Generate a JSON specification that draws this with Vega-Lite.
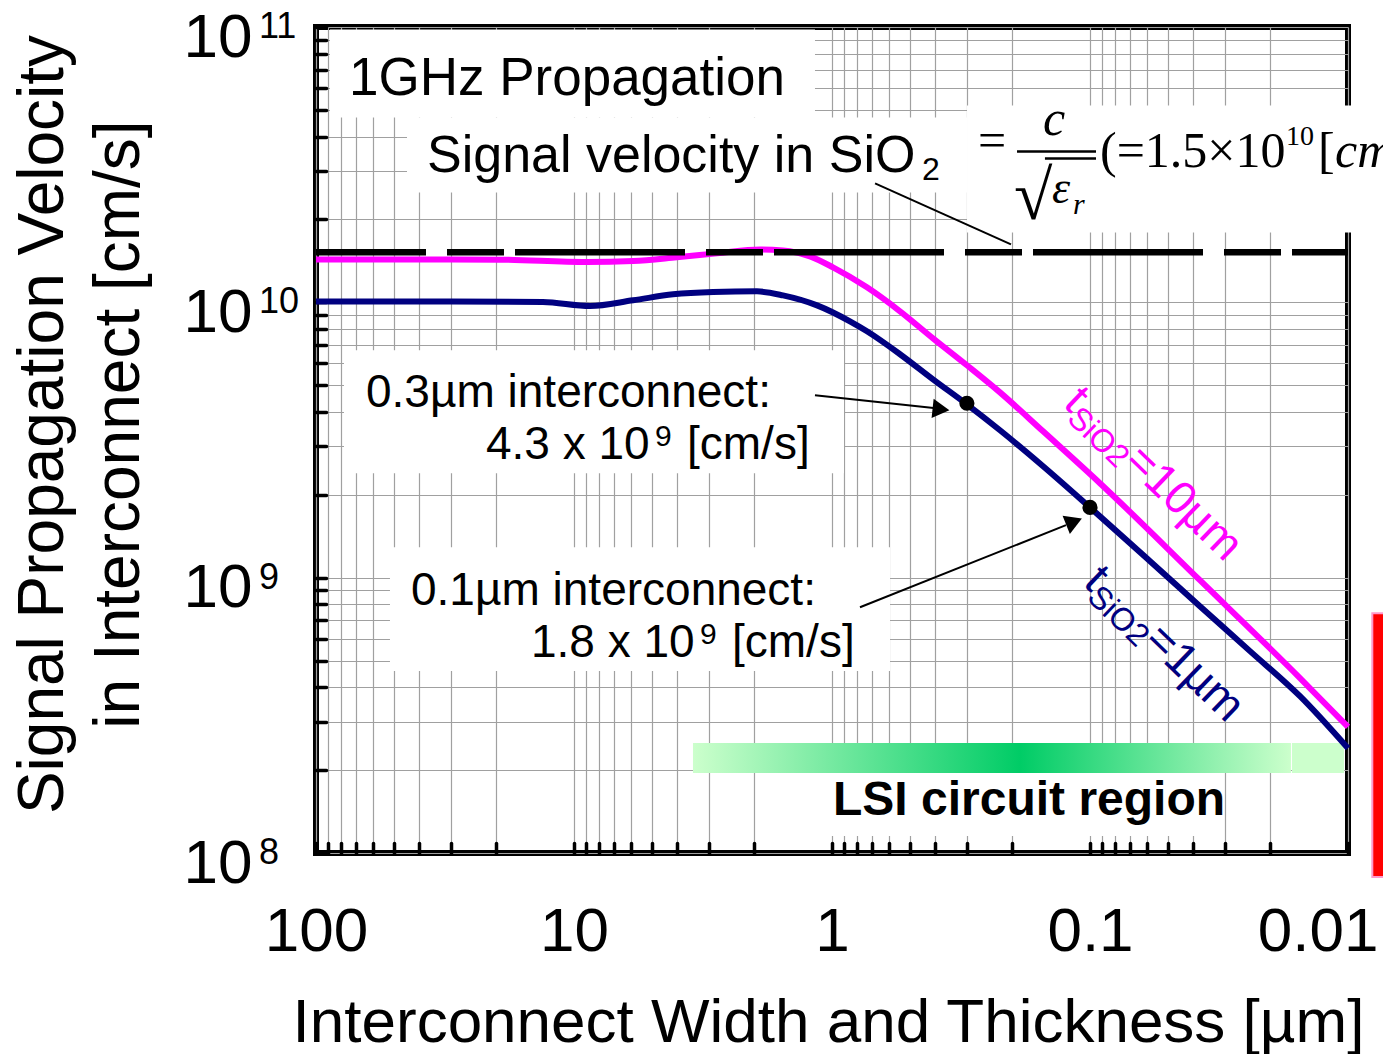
{
  "$schema": "https://vega.github.io/schema/vega-lite/v6.json",
  "width": 1032,
  "height": 826,
  "autosize": {"type": "none"},
  "padding": {"left": 316, "top": 27, "right": 35, "bottom": 201},
  "background": "white",
  "config": {
    "view": {"stroke": "black", "strokeWidth": 6},
    "font": "Liberation Sans",
    "text": {"font": "Liberation Sans", "color": "black"}
  },
  "datasets": {
    "boxes": [
      {"x1": 88.26, "x2": 1.164, "y1": 9.79e10, "y2": 4.694e10},
      {"x1": 44.39, "x2": 0.2997, "y1": 4.694e10, "y2": 2.508e10},
      {"x1": 0.2997, "x2": 0.00688, "y1": 5.19e10, "y2": 1.795e10},
      {"x1": 77.9, "x2": 0.8986, "y1": 6.696e9, "y2": 2.395e9},
      {"x1": 51.68, "x2": 0.5958, "y1": 1.29e9, "y2": 4.577e8},
      {"x1": 1.33, "x2": 0.03133, "y1": 1.952e8, "y2": 1.153e8}
    ],
    "lsi": [{"x1": 3.458, "x2": 0.01664, "y1": 2.508e8, "y2": 1.952e8}],
    "lsiTail": [{"x1": 0.01649, "x2": 0.01036, "y1": 2.508e8, "y2": 1.952e8}],
    "curves": [
      {"s": "t10", "w": 100, "v": 1.432e10},
      {"s": "t10", "w": 30.2, "v": 1.432e10},
      {"s": "t10", "w": 19.4, "v": 1.429e10},
      {"s": "t10", "w": 8.91, "v": 1.401e10},
      {"s": "t10", "w": 5.9, "v": 1.412e10},
      {"s": "t10", "w": 3.99, "v": 1.457e10},
      {"s": "t10", "w": 2.79, "v": 1.506e10},
      {"s": "t10", "w": 1.9, "v": 1.557e10},
      {"s": "t10", "w": 1.55, "v": 1.544e10},
      {"s": "t10", "w": 1.217, "v": 1.469e10},
      {"s": "t10", "w": 0.991, "v": 1.34e10},
      {"s": "t10", "w": 0.732, "v": 1.134e10},
      {"s": "t10", "w": 0.545, "v": 9.28e9},
      {"s": "t10", "w": 0.406, "v": 7.4e9},
      {"s": "t10", "w": 0.3, "v": 5.91e9},
      {"s": "t10", "w": 0.2233, "v": 4.71e9},
      {"s": "t10", "w": 0.152, "v": 3.4e9},
      {"s": "t10", "w": 0.0915, "v": 2.203e9},
      {"s": "t10", "w": 0.0375, "v": 9.79e8},
      {"s": "t10", "w": 0.01535, "v": 4.32e8},
      {"s": "t10", "w": 0.01, "v": 2.87e8},
      {"s": "t1", "w": 100, "v": 1.008e10},
      {"s": "t1", "w": 30.2, "v": 1.008e10},
      {"s": "t1", "w": 13.2, "v": 1.003e10},
      {"s": "t1", "w": 8.67, "v": 9.7e9},
      {"s": "t1", "w": 5.9, "v": 1.017e10},
      {"s": "t1", "w": 4.13, "v": 1.069e10},
      {"s": "t1", "w": 2.89, "v": 1.09e10},
      {"s": "t1", "w": 1.953, "v": 1.096e10},
      {"s": "t1", "w": 1.549, "v": 1.06e10},
      {"s": "t1", "w": 1.143, "v": 9.75e9},
      {"s": "t1", "w": 0.852, "v": 8.53e9},
      {"s": "t1", "w": 0.732, "v": 7.85e9},
      {"s": "t1", "w": 0.545, "v": 6.48e9},
      {"s": "t1", "w": 0.406, "v": 5.25e9},
      {"s": "t1", "w": 0.3, "v": 4.26e9},
      {"s": "t1", "w": 0.2233, "v": 3.43e9},
      {"s": "t1", "w": 0.152, "v": 2.54e9},
      {"s": "t1", "w": 0.1, "v": 1.8e9},
      {"s": "t1", "w": 0.0585, "v": 1.148e9},
      {"s": "t1", "w": 0.0375, "v": 7.88e8},
      {"s": "t1", "w": 0.02398, "v": 5.41e8},
      {"s": "t1", "w": 0.01535, "v": 3.71e8},
      {"s": "t1", "w": 0.01, "v": 2.4e8}
    ],
    "sio2": [{"v": 1.52e10}],
    "pointers": [
      {"x1": 0.681, "y1": 2.704e10, "x2": 0.2024, "y2": 1.624e10},
      {"x1": 1.164, "y1": 4.597e9, "x2": 0.3953, "y2": 4.123e9},
      {"x1": 0.779, "y1": 7.81e8, "x2": 0.1239, "y2": 1.551e9}
    ],
    "fracLines": [
      {"x1": 0.1918, "x2": 0.09478, "y1": 3.532e10, "y2": 3.532e10},
      {"x1": 0.1495, "x2": 0.09478, "y1": 3.332e10, "y2": 3.332e10}
    ],
    "dots": [{"w": 0.3, "v": 4.3e9}, {"w": 0.1, "v": 1.8e9}],
    "callouts": [
      {"w": 64.0, "v": 4.157e9, "l1": "0.3µm interconnect:", "l2": "4.3 x 10", "l3": "9", "l4": "[cm/s]"},
      {"w": 42.83, "v": 7.947e8, "l1": "0.1µm interconnect:", "l2": "1.8 x 10", "l3": "9", "l4": "[cm/s]"}
    ],
    "tlabels": [
      {"s": "t10", "w": 0.1284, "v": 4.227e9, "a": "t", "b": "SiO2", "c": "=10µm"},
      {"s": "t1", "w": 0.1074, "v": 9.47e8, "a": "t", "b": "SiO2", "c": "=1µm"}
    ],
    "exps": [
      {"v": 1e11, "e": "11"},
      {"v": 1e10, "e": "10"},
      {"v": 1e9, "e": "9"},
      {"v": 1e8, "e": "8"}
    ],
    "formula": [{"w": 0.09146, "v": 3.09e10}],
    "notes": [
      {"w": 74.5, "v": 5.64e10, "t": "1GHz Propagation"}
    ],
    "sigvel": [{"w": 37.14, "v": 2.964e10, "t": "Signal velocity in SiO", "sub": "2"}],
    "lsiText": [{"w": 0.1723, "v": 1.374e8, "t": "LSI circuit region"}],
    "redBox": [{"x1": 0.00805, "x2": 0.00629, "y1": 7.43e8, "y2": 8.18e7}]
  },
  "layer": [
    {
      "data": {"name": "boxes"},
      "mark": {"type": "rect", "fill": "white", "strokeWidth": 0},
      "encoding": {
        "x": {
          "field": "x1", "type": "quantitative",
          "scale": {"type": "log", "domain": [0.01, 100], "reverse": true, "nice": false},
          "axis": {
            "title": "Interconnect Width and Thickness [µm]",
            "values": [0.01,0.02,0.03,0.04,0.05,0.06,0.07,0.08,0.09,0.1,0.2,0.3,0.4,0.5,0.6,0.7,0.8,0.9,1,2,3,4,5,6,7,8,9,10,20,30,40,50,60,70,80,90,100],
            "format": "~g",
            "labelExpr": "indexof(['100','10','1','0.1','0.01'], datum.label) >= 0 ? datum.label : ''",
            "labelFontSize": 62, "labelColor": "black", "labelFont": "Liberation Sans",
            "labelBaseline": "alphabetic", "labelPadding": 107,
            "labelAlign": {"condition": {"test": "datum.value < 0.015", "value": "right"}, "value": "center"},
            "labelOffset": {"condition": {"test": "datum.value < 0.015", "value": 30}, "value": 0},
            "labelOverlap": false, "labelBound": false, "labelFlush": false,
            "domain": false,
            "ticks": true, "tickSize": -10, "tickWidth": 3.5, "tickColor": "black", "tickCap": "round",
            "grid": true, "gridColor": "#a0a0a0", "gridWidth": 1.2,
            "titleFontSize": 62, "titleFontWeight": "normal", "titleColor": "black", "titleFont": "Liberation Sans",
            "titleBaseline": "alphabetic", "titleY": 188, "titleX": 512, "titleAlign": "center"
          }
        },
        "x2": {"field": "x2"},
        "y": {
          "field": "y1", "type": "quantitative",
          "scale": {"type": "log", "domain": [1e8, 1e11], "nice": false},
          "axis": {
            "title": ["Signal Propagation Velocity", "in Interconnect [cm/s]"],
            "values": [1e8,2e8,3e8,4e8,5e8,6e8,7e8,8e8,9e8,1e9,2e9,3e9,4e9,5e9,6e9,7e9,8e9,9e9,1e10,2e10,3e10,4e10,5e10,6e10,7e10,8e10,9e10,1e11],
            "labelExpr": "indexof([1e8,1e9,1e10,1e11], datum.value) >= 0 ? '10' : ''",
            "labelFontSize": 62, "labelColor": "black", "labelFont": "Liberation Sans",
            "labelAlign": "right", "labelBaseline": "alphabetic", "labelPadding": 74, "labelOffset": 29,
            "labelOverlap": false, "labelBound": false, "labelFlush": false,
            "domain": false,
            "ticks": true, "tickSize": -10, "tickWidth": 3.5, "tickColor": "black", "tickCap": "round",
            "grid": true, "gridColor": "#a0a0a0", "gridWidth": 1.2,
            "titleFontSize": 64, "titleFontWeight": "normal", "titleColor": "black", "titleFont": "Liberation Sans",
            "titleAngle": -90, "titleX": -254, "titleY": 397, "titleAlign": "center",
            "titleBaseline": "alphabetic", "titleLineHeight": 76
          }
        },
        "y2": {"field": "y2"}
      }
    },
    {
      "data": {"name": "lsi"},
      "mark": {"type": "rect", "strokeWidth": 0, "fill": {"gradient": "linear", "x1": 0, "y1": 0, "x2": 1, "y2": 0,
        "stops": [{"offset": 0, "color": "#ccffcc"}, {"offset": 0.547, "color": "#00cc66"}, {"offset": 1, "color": "#ccffcc"}]}},
      "encoding": {"x": {"field": "x1", "type": "quantitative"}, "x2": {"field": "x2"}, "y": {"field": "y1", "type": "quantitative"}, "y2": {"field": "y2"}}
    },
    {
      "data": {"name": "lsiTail"},
      "mark": {"type": "rect", "fill": "#ccffcc", "strokeWidth": 0},
      "encoding": {"x": {"field": "x1", "type": "quantitative"}, "x2": {"field": "x2"}, "y": {"field": "y1", "type": "quantitative"}, "y2": {"field": "y2"}}
    },
    {
      "data": {"name": "curves"},
      "mark": {"type": "line", "strokeWidth": 6, "interpolate": "monotone"},
      "encoding": {
        "x": {"field": "w", "type": "quantitative"},
        "y": {"field": "v", "type": "quantitative"},
        "color": {"field": "s", "type": "nominal", "scale": {"domain": ["t10", "t1"], "range": ["#ff00ff", "#000080"]}, "legend": null}
      }
    },
    {
      "data": {"name": "sio2"},
      "mark": {"type": "rule", "color": "black", "strokeWidth": 6.5, "strokeDash": [170, 11, 57, 21], "strokeDashOffset": 114},
      "encoding": {"y": {"field": "v", "type": "quantitative"}}
    },
    {
      "data": {"name": "pointers"},
      "mark": {"type": "rule", "color": "black", "strokeWidth": 2},
      "encoding": {"x": {"field": "x1", "type": "quantitative"}, "x2": {"field": "x2"}, "y": {"field": "y1", "type": "quantitative"}, "y2": {"field": "y2"}}
    },
    {
      "data": {"name": "fracLines"},
      "mark": {"type": "rule", "color": "black", "strokeWidth": 2.5},
      "encoding": {"x": {"field": "x1", "type": "quantitative"}, "x2": {"field": "x2"}, "y": {"field": "y1", "type": "quantitative"}, "y2": {"field": "y2"}}
    },
    {
      "data": {"values": [{"w": 0.378, "v": 4.089e9}]},
      "mark": {"type": "point", "shape": "triangle-right", "filled": true, "color": "black", "size": 380, "angle": 6, "opacity": 1},
      "encoding": {"x": {"field": "w", "type": "quantitative"}, "y": {"field": "v", "type": "quantitative"}}
    },
    {
      "data": {"values": [{"w": 0.1153, "v": 1.597e9}]},
      "mark": {"type": "point", "shape": "triangle-right", "filled": true, "color": "black", "size": 380, "angle": -22, "opacity": 1},
      "encoding": {"x": {"field": "w", "type": "quantitative"}, "y": {"field": "v", "type": "quantitative"}}
    },
    {
      "data": {"name": "dots"},
      "mark": {"type": "point", "shape": "circle", "filled": true, "color": "black", "size": 230, "opacity": 1},
      "encoding": {"x": {"field": "w", "type": "quantitative"}, "y": {"field": "v", "type": "quantitative"}}
    },
    {
      "data": {"name": "notes"},
      "mark": {"type": "text", "fontSize": 53, "align": "left", "baseline": "alphabetic"},
      "encoding": {"x": {"field": "w", "type": "quantitative"}, "y": {"field": "v", "type": "quantitative"}, "text": {"field": "t"}}
    },
    {
      "data": {"name": "sigvel"},
      "mark": {"type": "text", "fontSize": 52, "align": "left", "baseline": "alphabetic"},
      "encoding": {"x": {"field": "w", "type": "quantitative"}, "y": {"field": "v", "type": "quantitative"}, "text": {"field": "t"}}
    },
    {
      "data": {"name": "sigvel"},
      "mark": {"type": "text", "fontSize": 32, "align": "left", "baseline": "alphabetic", "dx": 495, "dy": 8},
      "encoding": {"x": {"field": "w", "type": "quantitative"}, "y": {"field": "v", "type": "quantitative"}, "text": {"field": "sub"}}
    },
    {
      "data": {"name": "formula"},
      "mark": {"type": "text", "font": "Liberation Serif", "fontSize": 50, "align": "left", "baseline": "alphabetic", "dx": -122, "dy": -10, "text": "="},
      "encoding": {"x": {"field": "w", "type": "quantitative"}, "y": {"field": "v", "type": "quantitative"}}
    },
    {
      "data": {"name": "formula"},
      "mark": {"type": "text", "font": "Liberation Serif", "fontStyle": "italic", "fontSize": 50, "align": "left", "baseline": "alphabetic", "dx": -57, "dy": -32, "text": "c"},
      "encoding": {"x": {"field": "w", "type": "quantitative"}, "y": {"field": "v", "type": "quantitative"}}
    },
    {
      "data": {"name": "formula"},
      "mark": {"type": "text", "font": "Liberation Serif", "fontSize": 70, "align": "left", "baseline": "alphabetic", "dx": -86, "dy": 52, "text": "√"},
      "encoding": {"x": {"field": "w", "type": "quantitative"}, "y": {"field": "v", "type": "quantitative"}}
    },
    {
      "data": {"name": "formula"},
      "mark": {"type": "text", "font": "Liberation Serif", "fontStyle": "italic", "fontSize": 46, "align": "left", "baseline": "alphabetic", "dx": -48, "dy": 36, "text": "ε"},
      "encoding": {"x": {"field": "w", "type": "quantitative"}, "y": {"field": "v", "type": "quantitative"}}
    },
    {
      "data": {"name": "formula"},
      "mark": {"type": "text", "font": "Liberation Serif", "fontStyle": "italic", "fontSize": 30, "align": "left", "baseline": "alphabetic", "dx": -27, "dy": 47, "text": "r"},
      "encoding": {"x": {"field": "w", "type": "quantitative"}, "y": {"field": "v", "type": "quantitative"}}
    },
    {
      "data": {"name": "formula"},
      "mark": {"type": "text", "font": "Liberation Serif", "fontSize": 50, "align": "left", "baseline": "alphabetic", "text": "(=1.5×10"},
      "encoding": {"x": {"field": "w", "type": "quantitative"}, "y": {"field": "v", "type": "quantitative"}}
    },
    {
      "data": {"name": "formula"},
      "mark": {"type": "text", "font": "Liberation Serif", "fontSize": 28, "align": "left", "baseline": "alphabetic", "dx": 186, "dy": -22, "text": "10"},
      "encoding": {"x": {"field": "w", "type": "quantitative"}, "y": {"field": "v", "type": "quantitative"}}
    },
    {
      "data": {"name": "formula"},
      "mark": {"type": "text", "font": "Liberation Serif", "fontSize": 50, "align": "left", "baseline": "alphabetic", "dx": 218, "text": "["},
      "encoding": {"x": {"field": "w", "type": "quantitative"}, "y": {"field": "v", "type": "quantitative"}}
    },
    {
      "data": {"name": "formula"},
      "mark": {"type": "text", "font": "Liberation Serif", "fontStyle": "italic", "fontSize": 50, "align": "left", "baseline": "alphabetic", "dx": 235, "text": "cm"},
      "encoding": {"x": {"field": "w", "type": "quantitative"}, "y": {"field": "v", "type": "quantitative"}}
    },
    {
      "data": {"name": "callouts"},
      "mark": {"type": "text", "fontSize": 46, "align": "left", "baseline": "alphabetic"},
      "encoding": {"x": {"field": "w", "type": "quantitative"}, "y": {"field": "v", "type": "quantitative"}, "text": {"field": "l1"}}
    },
    {
      "data": {"name": "callouts"},
      "mark": {"type": "text", "fontSize": 46, "align": "left", "baseline": "alphabetic", "dx": 120, "dy": 52},
      "encoding": {"x": {"field": "w", "type": "quantitative"}, "y": {"field": "v", "type": "quantitative"}, "text": {"field": "l2"}}
    },
    {
      "data": {"name": "callouts"},
      "mark": {"type": "text", "fontSize": 30, "align": "left", "baseline": "alphabetic", "dx": 289, "dy": 39},
      "encoding": {"x": {"field": "w", "type": "quantitative"}, "y": {"field": "v", "type": "quantitative"}, "text": {"field": "l3"}}
    },
    {
      "data": {"name": "callouts"},
      "mark": {"type": "text", "fontSize": 46, "align": "left", "baseline": "alphabetic", "dx": 321, "dy": 52},
      "encoding": {"x": {"field": "w", "type": "quantitative"}, "y": {"field": "v", "type": "quantitative"}, "text": {"field": "l4"}}
    },
    {
      "data": {"name": "tlabels"},
      "mark": {"type": "text", "fontSize": 46, "align": "left", "baseline": "alphabetic", "angle": 44},
      "encoding": {"x": {"field": "w", "type": "quantitative"}, "y": {"field": "v", "type": "quantitative"}, "text": {"field": "a"},
        "color": {"field": "s", "type": "nominal", "legend": null}}
    },
    {
      "data": {"name": "tlabels"},
      "mark": {"type": "text", "fontSize": 32, "align": "left", "baseline": "alphabetic", "angle": 44, "dx": 12.8, "dy": 8},
      "encoding": {"x": {"field": "w", "type": "quantitative"}, "y": {"field": "v", "type": "quantitative"}, "text": {"field": "b"},
        "color": {"field": "s", "type": "nominal", "legend": null}}
    },
    {
      "data": {"name": "tlabels"},
      "mark": {"type": "text", "fontSize": 46, "align": "left", "baseline": "alphabetic", "angle": 44, "dx": 84},
      "encoding": {"x": {"field": "w", "type": "quantitative"}, "y": {"field": "v", "type": "quantitative"}, "text": {"field": "c"},
        "color": {"field": "s", "type": "nominal", "legend": null}}
    },
    {
      "data": {"name": "exps"},
      "mark": {"type": "text", "fontSize": 36, "align": "left", "baseline": "alphabetic", "dx": -57, "dy": 11},
      "encoding": {"x": {"datum": 100, "type": "quantitative"}, "y": {"field": "v", "type": "quantitative"}, "text": {"field": "e"}}
    },
    {
      "data": {"name": "lsiText"},
      "mark": {"type": "text", "fontSize": 48, "fontWeight": "bold", "align": "center", "baseline": "alphabetic"},
      "encoding": {"x": {"field": "w", "type": "quantitative"}, "y": {"field": "v", "type": "quantitative"}, "text": {"field": "t"}}
    },
    {
      "data": {"name": "redBox"},
      "mark": {"type": "rect", "fill": "#ff0000", "stroke": "#ff99cc", "strokeWidth": 2},
      "encoding": {"x": {"field": "x1", "type": "quantitative"}, "x2": {"field": "x2"}, "y": {"field": "y1", "type": "quantitative"}, "y2": {"field": "y2"}}
    }
  ]
}
